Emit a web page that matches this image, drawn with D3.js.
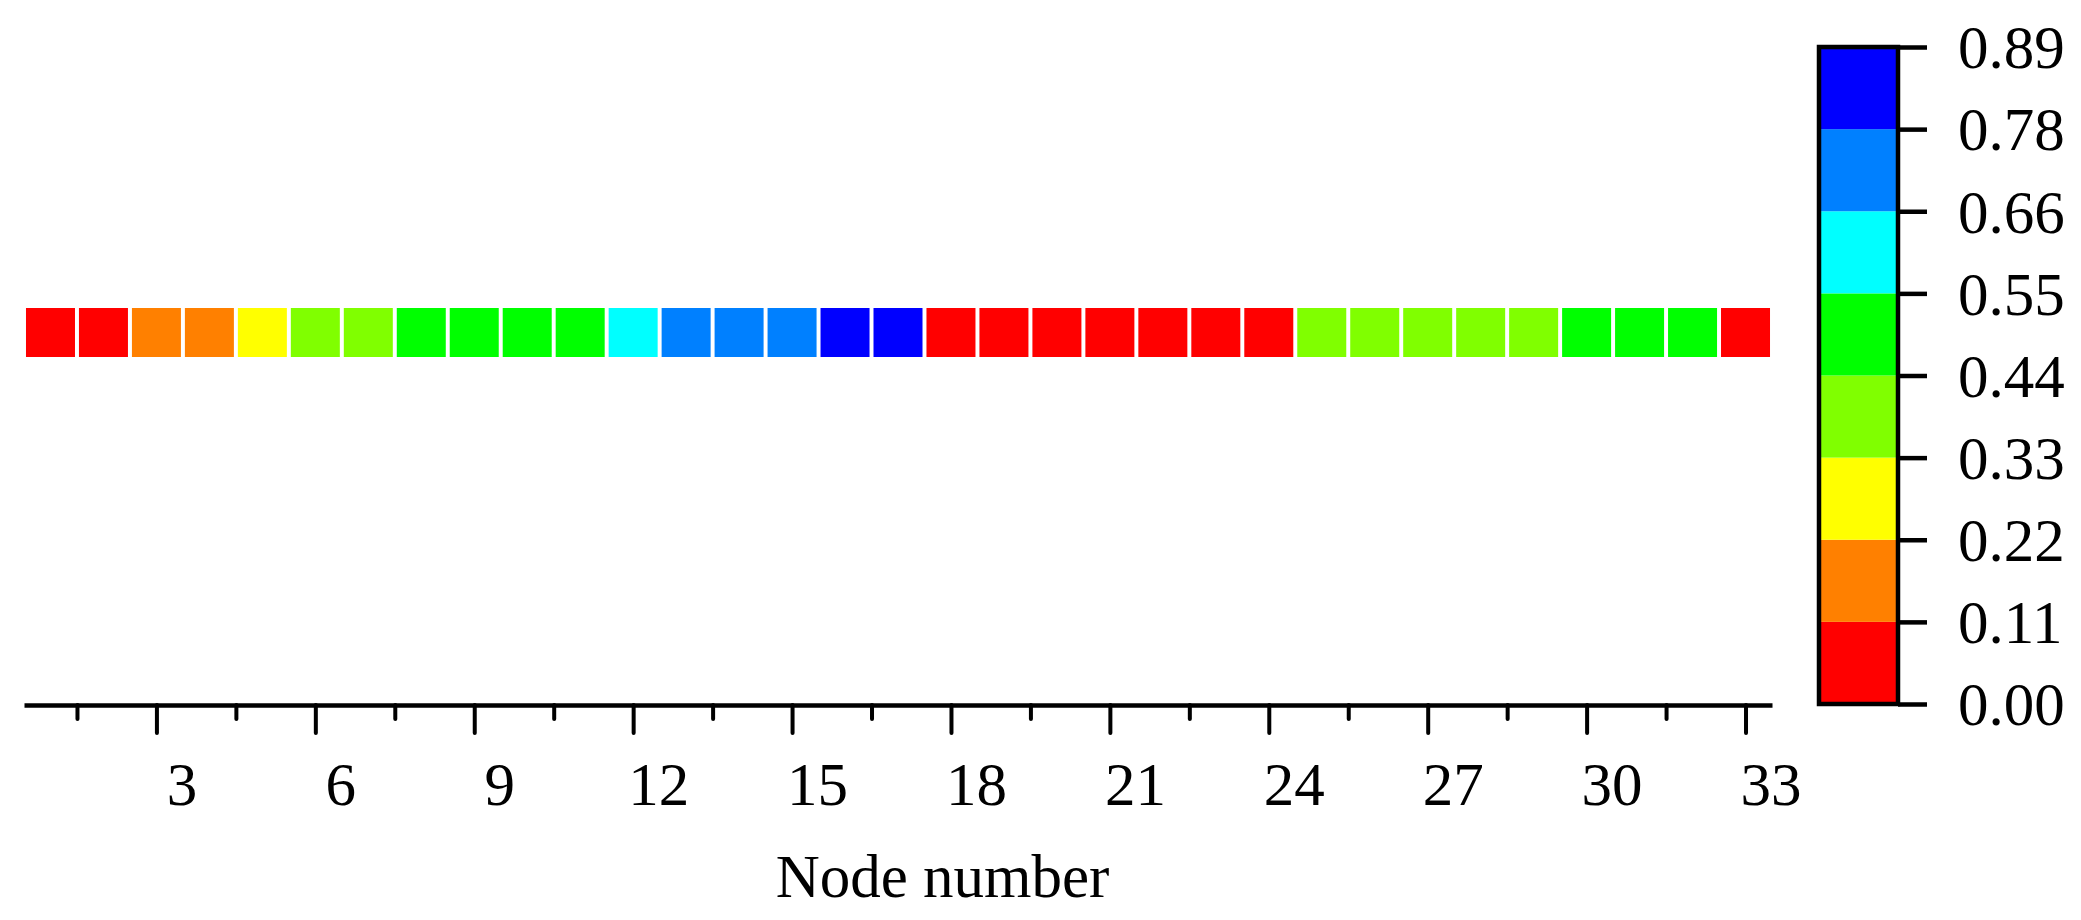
<!DOCTYPE html>
<html>
<head>
<meta charset="utf-8">
<script src="https://cdn.jsdelivr.net/npm/d3@7"></script>
<style>
  html, body { margin: 0; padding: 0; background: #fff; }
  text { font-family: "Liberation Serif", "Times New Roman", serif; fill: #000; }
</style>
</head>
<body>
<div id="container"></div>
<script>
const nodes = d3.range(1, 34);
const nodeValues = [
  0.03, 0.05, 0.15, 0.18, 0.27, 0.37, 0.41, 0.47, 0.49, 0.51, 0.53,
  0.60, 0.70, 0.73, 0.76, 0.83, 0.87, 0.04, 0.04, 0.03, 0.03, 0.02,
  0.02, 0.03, 0.38, 0.39, 0.40, 0.41, 0.42, 0.47, 0.48, 0.50, 0.02
];

// Colour bar levels and colours (bottom to top)
const levels = [0.00, 0.11, 0.22, 0.33, 0.44, 0.55, 0.66, 0.78, 0.89];
const levelLabels = ["0.00", "0.11", "0.22", "0.33", "0.44", "0.55", "0.66", "0.78", "0.89"];
const bandColors = ["#ff0000", "#ff8000", "#ffff00", "#80ff00", "#00ff00", "#00ffff", "#0080ff", "#0000ff"];

// Axis ticks
const majorTicks = [3, 6, 9, 12, 15, 18, 21, 24, 27, 30, 33];
const minorTicks = [1.5, 4.5, 7.5, 10.5, 13.5, 16.5, 19.5, 22.5, 25.5, 28.5, 31.5];

const width = 2081;
const height = 920;

const svg = d3.select('#container')
    .append('svg')
    .attr('width', width)
    .attr('height', height);

// x scale: node number to pixel
const x = d3.scaleLinear()
    .domain([0.5, 33.5])
    .range([24, 1772]);

const cellSize = 49;
const rowY = 308;
const axisY = 705;

// threshold colour scale matching the colour bar
const color = d3.scaleThreshold()
    .domain(levels.slice(1, -1))
    .range(bandColors);

// cells
svg.selectAll('.cell')
    .data(nodes)
    .enter().append('rect')
    .attr('class', 'cell')
    .attr('x', d => x(d) - cellSize / 2)
    .attr('y', rowY)
    .attr('width', cellSize)
    .attr('height', cellSize)
    .style('fill', (d, i) => color(nodeValues[i]));

// x axis: major ticks
const axisMajor = d3.axisBottom(x)
    .tickValues(majorTicks)
    .tickSize(28)
    .tickSizeOuter(0)
    .tickFormat(d3.format('d'));

const gMajor = svg.append('g')
    .attr('transform', `translate(0,${axisY})`)
    .call(axisMajor);

gMajor.select('.domain')
    .attr('stroke', '#000')
    .attr('stroke-width', 4.5);
gMajor.selectAll('.tick line')
    .attr('stroke', '#000')
    .attr('stroke-width', 4)
    .attr('stroke-linecap', 'round');
gMajor.selectAll('.tick text')
    .attr('x', 25)
    .attr('y', 100)
    .attr('dy', 0)
    .style('font-size', '61px');

// x axis: minor ticks
const axisMinor = d3.axisBottom(x)
    .tickValues(minorTicks)
    .tickSize(14)
    .tickSizeOuter(0)
    .tickFormat('');

const gMinor = svg.append('g')
    .attr('transform', `translate(0,${axisY})`)
    .call(axisMinor);
gMinor.select('.domain').remove();
gMinor.selectAll('.tick line')
    .attr('stroke', '#000')
    .attr('stroke-width', 4)
    .attr('stroke-linecap', 'round');

// axis title
svg.append('text')
    .attr('x', x(17.5) + 18)
    .attr('y', 897)
    .attr('text-anchor', 'middle')
    .style('font-size', '61px')
    .text('Node number');

// colour bar
const barLeft = 1819;
const barRight = 1898;
const cbIndex = d3.scaleLinear()
    .domain([0, levels.length - 1])
    .range([704, 47]);

svg.selectAll('.band')
    .data(bandColors)
    .enter().append('rect')
    .attr('class', 'band')
    .attr('x', barLeft)
    .attr('y', (d, i) => cbIndex(i + 1))
    .attr('width', barRight - barLeft)
    .attr('height', (d, i) => cbIndex(i) - cbIndex(i + 1))
    .style('fill', d => d);

svg.append('rect')
    .attr('x', barLeft)
    .attr('y', cbIndex(levels.length - 1))
    .attr('width', barRight - barLeft)
    .attr('height', cbIndex(0) - cbIndex(levels.length - 1))
    .style('fill', 'none')
    .style('stroke', '#000')
    .style('stroke-width', 4.5);

const cbAxis = d3.axisRight(cbIndex)
    .tickValues(d3.range(levels.length))
    .tickSize(29)
    .tickSizeOuter(0)
    .tickFormat(i => levelLabels[i]);

const gCb = svg.append('g')
    .attr('transform', `translate(${barRight},0)`)
    .call(cbAxis);
gCb.select('.domain').remove();
gCb.selectAll('.tick line')
    .attr('stroke', '#000')
    .attr('stroke-width', 4.5);
gCb.selectAll('.tick text')
    .attr('x', 60)
    .attr('dy', '0.34em')
    .style('font-size', '61px');
</script>
</body>
</html>
